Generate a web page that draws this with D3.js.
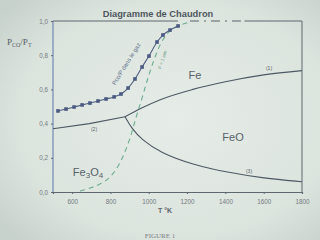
<!DOCTYPE html>
<html><head><meta charset="utf-8">
<script src="https://cdn.jsdelivr.net/npm/d3@7"></script>
<style>html,body{margin:0;padding:0;background:#dde5df;}svg{display:block;}</style>
</head><body>
<script>
// ---- data ----
const tempTicks = [600, 800, 1000, 1200, 1400, 1600, 1800];
const fracTicks = [0, 0.2, 0.4, 0.6, 0.8, 1.0];
const fracTickLabels = ["0,0", "0,2", "0,4", "0,6", "0,8", "1,0"];

// (1) Fe / FeO
const curve1T = [876, 960, 1060, 1230, 1400, 1600, 1800];
const curve1V = [0.44, 0.49, 0.54, 0.60, 0.645, 0.685, 0.71];
// (2) Fe3O4 / Fe
const curve2T = [500, 690, 876];
const curve2V = [0.37, 0.40, 0.44];
// (3) FeO / Fe3O4
const curve3T = [876, 912, 960, 1060, 1230, 1410, 1600, 1800];
const curve3V = [0.44, 0.37, 0.31, 0.23, 0.16, 0.115, 0.08, 0.06];
// Pco/P dans le gaz (markers)
const gasT = [526, 568, 610, 652, 693, 735, 777, 819, 855, 892, 928, 965, 1001, 1043, 1074, 1111, 1153];
const gasV = [0.474, 0.485, 0.497, 0.509, 0.52, 0.532, 0.544, 0.556, 0.573, 0.608, 0.661, 0.731, 0.795, 0.877, 0.918, 0.947, 0.971];
// Boudouard, P = 1 atm
const boudT = [641, 693, 745, 798, 840, 871, 902, 933, 965, 996, 1027, 1059, 1100, 1153, 1215];
const boudV = [0.006, 0.023, 0.047, 0.088, 0.152, 0.222, 0.316, 0.433, 0.55, 0.667, 0.772, 0.86, 0.93, 0.97, 0.994];
const topDashT = [1215, 1500];
const topDashV = [1.0, 1.0];

// ---- drawing ----
const W = 320, H = 240;
const svg = d3.select("body").append("svg").attr("width", W).attr("height", H);
const defs = svg.append("defs");
const rg = defs.append("radialGradient").attr("id", "bg").attr("cx", "55%").attr("cy", "50%").attr("r", "70%");
rg.append("stop").attr("offset", "0%").attr("stop-color", "#e6ece7");
rg.append("stop").attr("offset", "70%").attr("stop-color", "#dce4de");
rg.append("stop").attr("offset", "100%").attr("stop-color", "#c8d2cc");
svg.append("rect").attr("width", W).attr("height", H).attr("fill", "url(#bg)");

const x = d3.scaleLinear().domain([500, 1800]).range([53, 302]);
const y = d3.scaleLinear().domain([0, 1]).range([192, 21]);

const frameCol = "#5e6770";
const curveCol = "#4c5863";
const textCol = "#737b80";

// frame
svg.append("line").attr("x1", x(500)).attr("x2", x(500)).attr("y1", y(0)).attr("y2", y(1))
  .attr("stroke", "#5a78a8").attr("stroke-width", 1);
svg.append("line").attr("x1", x(1800)).attr("x2", x(1800)).attr("y1", y(0)).attr("y2", y(1))
  .attr("stroke", frameCol).attr("stroke-width", 1);
svg.append("line").attr("x1", x(500)).attr("x2", x(1153)).attr("y1", y(1)).attr("y2", y(1))
  .attr("stroke", frameCol).attr("stroke-width", 1);
svg.append("line").attr("x1", x(1500)).attr("x2", x(1800)).attr("y1", y(1)).attr("y2", y(1))
  .attr("stroke", frameCol).attr("stroke-width", 1);

// axes
const xAxis = d3.axisBottom(x).tickValues(tempTicks).tickSize(2).tickPadding(6).tickFormat(d3.format("d"));
const gx = svg.append("g").attr("transform", `translate(0,${y(0)})`).call(xAxis);
gx.select(".domain").attr("stroke", frameCol).attr("stroke-width", 1.2);
gx.selectAll(".tick line").attr("stroke", frameCol);
gx.selectAll("text").attr("fill", textCol).attr("font-family", "Liberation Sans, Arial, sans-serif").attr("font-size", 6.3);

const yAxis = d3.axisLeft(y).tickValues(fracTicks).tickSize(2).tickPadding(3)
  .tickFormat((d, i) => fracTickLabels[i]);
const gy = svg.append("g").attr("transform", `translate(${x(500)},0)`).call(yAxis);
gy.select(".domain").remove();
gy.selectAll(".tick line").attr("stroke", frameCol);
gy.selectAll("text").attr("fill", textCol).attr("font-family", "Liberation Sans, Arial, sans-serif").attr("font-size", 6.3);

// curves
const line = d3.line().x(d => x(d[0])).y(d => y(d[1])).curve(d3.curveMonotoneX);
const zip = (a, b) => a.map((v, i) => [v, b[i]]);

svg.append("path").datum(zip(curve2T, curve2V)).attr("d", line.curve(d3.curveLinear))
  .attr("fill", "none").attr("stroke", curveCol).attr("stroke-width", 1.1);
svg.append("path").datum(zip(curve1T, curve1V)).attr("d", line.curve(d3.curveMonotoneX))
  .attr("fill", "none").attr("stroke", curveCol).attr("stroke-width", 1.1);
svg.append("path").datum(zip(curve3T, curve3V)).attr("d", line.curve(d3.curveBasis))
  .attr("fill", "none").attr("stroke", curveCol).attr("stroke-width", 1.1);

// Boudouard dashed
svg.append("path").datum(zip(boudT, boudV)).attr("d", line.curve(d3.curveMonotoneX))
  .attr("fill", "none").attr("stroke", "#6aad8c").attr("stroke-width", 1.1).attr("stroke-dasharray", "5,4");
svg.append("path").datum(zip(topDashT, topDashV)).attr("d", line.curve(d3.curveLinear))
  .attr("fill", "none").attr("stroke", "#5a636c").attr("stroke-width", 1.2).attr("stroke-dasharray", "9,5,2,5");

// gas curve with square markers
const gas = zip(gasT, gasV);
svg.append("path").datum(gas).attr("d", line.curve(d3.curveMonotoneX))
  .attr("fill", "none").attr("stroke", "#4e5e80").attr("stroke-width", 1.1);
svg.append("g").selectAll("rect").data(gas).join("rect")
  .attr("x", d => x(d[0]) - 1.8).attr("y", d => y(d[1]) - 1.8)
  .attr("width", 3.6).attr("height", 3.6).attr("fill", "#4b5a82");

// labels
const sans = "Liberation Sans, Arial, sans-serif";
svg.append("text").attr("x", 158).attr("y", 17).attr("text-anchor", "middle")
  .attr("font-family", sans).attr("font-weight", "bold").attr("font-size", 9.3).attr("fill", "#4f575e")
  .text("Diagramme de Chaudron");

const yl = svg.append("text").attr("x", 7).attr("y", 45).attr("font-family", "Liberation Serif, serif")
  .attr("font-size", 9).attr("fill", "#555e66");
yl.append("tspan").text("P");
yl.append("tspan").attr("font-size", 6).attr("dy", 2).text("CO");
yl.append("tspan").attr("dy", -2).text("/P");
yl.append("tspan").attr("font-size", 6).attr("dy", 2).text("T");

svg.append("text").attr("x", 165).attr("y", 213).attr("text-anchor", "middle")
  .attr("font-family", sans).attr("font-weight", "bold").attr("font-size", 7).attr("fill", "#5a6268")
  .text("T °K");

svg.append("text").attr("x", 195).attr("y", 79).attr("text-anchor", "middle")
  .attr("font-family", sans).attr("font-size", 11).attr("fill", "#58616a").text("Fe");
svg.append("text").attr("x", 233).attr("y", 141).attr("text-anchor", "middle")
  .attr("font-family", sans).attr("font-size", 11).attr("fill", "#58616a").text("FeO");
const f34 = svg.append("text").attr("x", 88).attr("y", 176).attr("text-anchor", "middle")
  .attr("font-family", sans).attr("font-size", 11).attr("fill", "#58616a");
f34.append("tspan").text("Fe");
f34.append("tspan").attr("font-size", 8).attr("dy", 2).text("3");
f34.append("tspan").attr("dy", -2).text("O");
f34.append("tspan").attr("font-size", 8).attr("dy", 2).text("4");

svg.append("text").attr("x", 269).attr("y", 70).attr("text-anchor", "middle")
  .attr("font-family", sans).attr("font-size", 5).attr("fill", "#5a6268").text("(1)");
svg.append("text").attr("x", 94).attr("y", 131).attr("text-anchor", "middle")
  .attr("font-family", sans).attr("font-size", 5).attr("fill", "#5a6268").text("(2)");
svg.append("text").attr("x", 249).attr("y", 173).attr("text-anchor", "middle")
  .attr("font-family", sans).attr("font-size", 5).attr("fill", "#5a6268").text("(3)");

svg.append("text").attr("transform", "translate(128,65) rotate(-58)").attr("text-anchor", "middle")
  .attr("font-family", sans).attr("font-size", 6).attr("fill", "#5b6d8a").text("Pco/P dans le gaz");
svg.append("text").attr("transform", "translate(164,60) rotate(-72)").attr("text-anchor", "middle")
  .attr("font-family", sans).attr("font-size", 4.5).attr("fill", "#6a9a80").text("P = 1 atm");

svg.append("text").attr("x", 160).attr("y", 238).attr("text-anchor", "middle")
  .attr("font-family", "Liberation Serif, serif").attr("font-size", 7).attr("fill", "#7a8085").text("FIGURE 1");
</script>
</body></html>
